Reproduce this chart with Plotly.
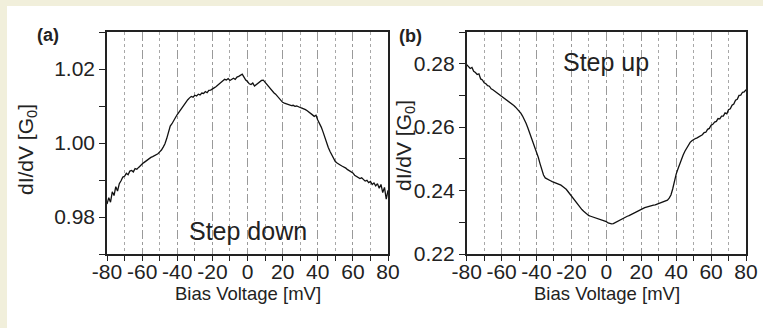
import plotly.graph_objects as go

# ---------------- data ----------------
bias_mv = [-80, -79, -78, -77, -76, -75, -74, -73, -72, -71, -70, -69, -68, -67, -66, -65,
           -64, -63, -62, -61, -60, -59, -58, -57, -56, -55, -54, -53, -52, -51, -50, -49,
           -48, -47, -46, -45, -44, -43, -42, -41, -40, -39, -38, -37, -36, -35, -34, -33,
           -32, -31, -30, -29, -28, -27, -26, -25, -24, -23, -22, -21, -20, -19, -18, -17,
           -16, -15, -14, -13, -12, -11, -10, -9, -8, -7, -6, -5, -4, -3, -2, -1,
           0, 1, 2, 3, 4, 5, 6, 7, 8, 9, 10, 11, 12, 13, 14, 15,
           16, 17, 18, 19, 20, 21, 22, 23, 24, 25, 26, 27, 28, 29, 30, 31,
           32, 33, 34, 35, 36, 37, 38, 39, 40, 41, 42, 43, 44, 45, 46, 47,
           48, 49, 50, 51, 52, 53, 54, 55, 56, 57, 58, 59, 60, 61, 62, 63,
           64, 65, 66, 67, 68, 69, 70, 71, 72, 73, 74, 75, 76, 77, 78, 79, 80]

step_down = [0.9835, 0.9852, 0.9840, 0.9868, 0.9858, 0.9882, 0.9870, 0.9890, 0.9898, 0.9908,
             0.9910, 0.9918, 0.9914, 0.9924, 0.9926, 0.9922, 0.9931, 0.9929, 0.9934, 0.9940,
             0.9943, 0.9947, 0.9951, 0.9954, 0.9958, 0.9961, 0.9963, 0.9966, 0.9967, 0.9971,
             0.9976, 0.9981, 0.9989, 0.9998, 1.0012, 1.0030, 1.0046, 1.0052, 1.0063, 1.0069,
             1.0077, 1.0084, 1.0092, 1.0099, 1.0106, 1.0112, 1.0117, 1.0122, 1.0126, 1.0124,
             1.0129, 1.0127, 1.0132, 1.0130, 1.0135, 1.0134, 1.0139, 1.0136, 1.0142, 1.0143,
             1.0147, 1.0149, 1.0152, 1.0156, 1.0160, 1.0163, 1.0168, 1.0172, 1.0170, 1.0174,
             1.0169, 1.0173, 1.0175, 1.0172, 1.0178, 1.0180, 1.0183, 1.0186, 1.0178, 1.0170,
             1.0166, 1.0160, 1.0158, 1.0162, 1.0154, 1.0158, 1.0161, 1.0166, 1.0169, 1.0170,
             1.0164, 1.0158, 1.0151, 1.0147, 1.0141, 1.0136, 1.0132, 1.0126, 1.0121, 1.0115,
             1.0110, 1.0108, 1.0106, 1.0104, 1.0103, 1.0101, 1.0102, 1.0099, 1.0100, 1.0097,
             1.0096, 1.0094, 1.0093, 1.0090, 1.0087, 1.0084, 1.0080, 1.0076, 1.0072, 1.0075,
             1.0062, 1.0053, 1.0043, 1.0030, 1.0014, 1.0000, 0.9988, 0.9977, 0.9968, 0.9958,
             0.9950, 0.9946, 0.9942, 0.9940, 0.9937, 0.9935, 0.9932, 0.9928, 0.9925, 0.9921,
             0.9919, 0.9913, 0.9910, 0.9908, 0.9904, 0.9906, 0.9900, 0.9897, 0.9899, 0.9893,
             0.9896, 0.9888, 0.9892, 0.9884, 0.9890, 0.9878, 0.9888, 0.9866, 0.9880, 0.9848,
             0.9872]

step_up = [0.2797, 0.2792, 0.2785, 0.2788, 0.2776, 0.2772, 0.2766, 0.2768, 0.2752, 0.2749,
           0.2740, 0.2737, 0.2731, 0.2729, 0.2721, 0.2718, 0.2714, 0.2709, 0.2706, 0.2700,
           0.2697, 0.2692, 0.2689, 0.2685, 0.2681, 0.2678, 0.2673, 0.2668, 0.2663, 0.2657,
           0.2651, 0.2644, 0.2635, 0.2625, 0.2612, 0.2598, 0.2583, 0.2568, 0.2552, 0.2537,
           0.2522, 0.2505, 0.2485, 0.2462, 0.2449, 0.2440, 0.2436, 0.2433, 0.2431, 0.2428,
           0.2426, 0.2423, 0.2421, 0.2419, 0.2417, 0.2413, 0.2409, 0.2404, 0.2397, 0.2390,
           0.2382, 0.2373, 0.2366, 0.2359, 0.2352, 0.2345, 0.2340, 0.2335, 0.2330, 0.2325,
           0.2321, 0.2319, 0.2317, 0.2315, 0.2314, 0.2312, 0.2310, 0.2308, 0.2307, 0.2305,
           0.2302, 0.2298, 0.2296, 0.2295, 0.2296, 0.2299, 0.2302, 0.2306, 0.2309, 0.2312,
           0.2314, 0.2316, 0.2319, 0.2321, 0.2324, 0.2326, 0.2329, 0.2332, 0.2335, 0.2339,
           0.2342, 0.2344, 0.2346, 0.2348, 0.2350, 0.2350, 0.2352, 0.2354, 0.2355, 0.2357,
           0.2360, 0.2361, 0.2363, 0.2366, 0.2367, 0.2370, 0.2376, 0.2386, 0.2405, 0.2432,
           0.2452, 0.2468, 0.2484, 0.2499, 0.2512, 0.2524, 0.2535, 0.2545, 0.2552, 0.2557,
           0.2561, 0.2564, 0.2566, 0.2569, 0.2572, 0.2576, 0.2583, 0.2584, 0.2593, 0.2596,
           0.2606, 0.2609, 0.2616, 0.2618, 0.2627, 0.2626, 0.2635, 0.2635, 0.2645, 0.2642,
           0.2655, 0.2658, 0.2669, 0.2673, 0.2685, 0.2688, 0.2700, 0.2701, 0.2710, 0.2711,
           0.2718]

panel_labels = ["(a)", "(b)"]
curve_labels = ["Step down", "Step up"]
x_title = "Bias Voltage [mV]"
y_title = "dI/dV [G<sub>0</sub>]"
x_ticks = [-80, -60, -40, -20, 0, 20, 40, 60, 80]
x_tick_text = ["-80", "-60", "-40", "-20", "0", "20", "40", "60", "80"]
y_ticks_a = [0.98, 1.00, 1.02]
y_tick_text_a = ["0.98", "1.00", "1.02"]
y_ticks_b = [0.22, 0.24, 0.26, 0.28]
y_tick_text_b = ["0.22", "0.24", "0.26", "0.28"]

# ---------------- figure ----------------
W, H = 763, 328
FONT = "Liberation Sans, Arial, Helvetica, sans-serif"
CREAM = "#F1EFDB"
INK = "#222222"

def px(x):
    return x / W

def py(y):
    return 1 - y / H

fig = go.Figure()
fig.add_trace(go.Scatter(x=bias_mv, y=step_down, mode="lines",
                         line=dict(color="#111111", width=1.3), xaxis="x", yaxis="y",
                         showlegend=False))
fig.add_trace(go.Scatter(x=bias_mv, y=step_up, mode="lines",
                         line=dict(color="#111111", width=1.3), xaxis="x2", yaxis="y2",
                         showlegend=False))

common_x = dict(range=[-80, 80], tickvals=x_ticks, ticktext=x_tick_text, tickangle=0,
                automargin=False, ticklabelstandoff=-7,
                ticks="outside", ticklen=5, tickwidth=1.2,
                tickcolor=INK, showline=True, linecolor=INK, linewidth=1.6, mirror=True,
                showgrid=True, gridcolor="#9a9a9a", gridwidth=1, griddash="dashdot",
                minor=dict(dtick=10, tick0=0, ticks="outside", ticklen=5, tickcolor=INK,
                           showgrid=True, gridcolor="#a8a8a8", griddash="dot", gridwidth=1),
                zeroline=False, tickfont=dict(family=FONT, size=21, color=INK),
                fixedrange=True)
common_y = dict(ticks="outside", ticklen=6, tickwidth=1.2, tickcolor=INK, automargin=False,
                showline=True, linecolor=INK, linewidth=1.6, mirror=True,
                showgrid=False, zeroline=False,
                tickfont=dict(family=FONT, size=21, color=INK), fixedrange=True)

xa_dom = [px(107), px(388)]
xb_dom = [px(466.7), px(746)]
y_dom = [py(254), py(32)]

fig.update_layout(
    width=W, height=H, autosize=False,
    margin=dict(l=0, r=0, t=0, b=0, pad=0),
    paper_bgcolor="white", plot_bgcolor="white",
    xaxis=dict(domain=xa_dom, anchor="y", **common_x),
    yaxis=dict(domain=y_dom, anchor="x", range=[0.97, 1.03], tickvals=y_ticks_a,
               ticktext=y_tick_text_a,
               minor=dict(dtick=0.01, tick0=0, ticks="outside", ticklen=6, tickcolor=INK),
               **common_y),
    xaxis2=dict(domain=xb_dom, anchor="y2", **common_x),
    yaxis2=dict(domain=y_dom, anchor="x2", range=[0.22, 0.29], tickvals=y_ticks_b,
                ticktext=y_tick_text_b,
                minor=dict(dtick=0.01, tick0=0, ticks="outside", ticklen=6, tickcolor=INK),
                **common_y),
    shapes=[
        dict(type="rect", xref="paper", yref="paper", x0=-0.02, x1=px(7), y0=-0.05, y1=1.05,
             fillcolor=CREAM, line=dict(width=0), layer="below"),
        dict(type="rect", xref="paper", yref="paper", x0=-0.02, x1=1.02, y0=py(6), y1=1.05,
             fillcolor=CREAM, line=dict(width=0), layer="below"),
    ],
)

ann = []
base = dict(xref="paper", yref="paper", showarrow=False, xanchor="center", yanchor="middle")
# panel letters
ann.append(dict(text="<b>" + panel_labels[0] + "</b>", x=px(47.7), y=py(35),
                font=dict(family=FONT, size=18, color=INK), **base))
ann.append(dict(text="<b>" + panel_labels[1] + "</b>", x=px(410), y=py(36),
                font=dict(family=FONT, size=18, color=INK), **base))
# y titles
for cx, cy in [(27, 150), (405, 146)]:
    ann.append(dict(text=y_title, x=px(cx), y=py(cy), textangle=-90,
                    font=dict(family=FONT, size=21, color=INK), **base))
# x titles
for cx in [247.5, 606.5]:
    ann.append(dict(text=x_title, x=px(cx), y=py(293),
                    font=dict(family=FONT, size=18.5, color=INK), **base))
# curve labels
ann.append(dict(text=curve_labels[0], x=0, y=0.9762, xref="x", yref="y", showarrow=False,
                font=dict(family=FONT, size=25, color=INK)))
ann.append(dict(text=curve_labels[1], x=0, y=0.2806, xref="x2", yref="y2", showarrow=False,
                font=dict(family=FONT, size=25, color=INK)))
fig.update_layout(annotations=ann)

fig.write_html("out.html")
